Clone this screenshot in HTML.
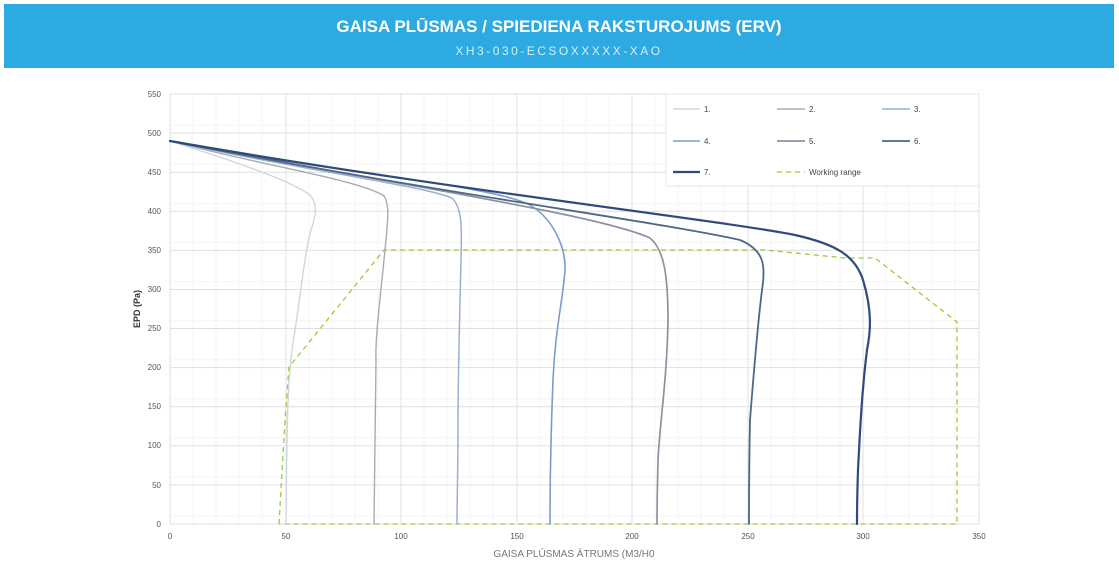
<!DOCTYPE html>
<html><head><meta charset="utf-8"><style>
body{margin:0;width:1119px;height:564px;background:#fff;font-family:"Liberation Sans",sans-serif;overflow:hidden;position:relative}
.hdr{position:absolute;left:4px;top:4px;width:1110px;height:64px;background:#2eaae3;color:#fff;text-align:center}
.t1{position:absolute;top:13px;width:100%;font-size:17px;font-weight:bold}
.t2{position:absolute;top:40px;width:100%;font-size:12px;letter-spacing:2.5px;color:#d5effa}
</style></head><body>
<div class="hdr"><div class="t1">GAISA PLŪSMAS / SPIEDIENA RAKSTUROJUMS (ERV)</div><div class="t2">XH3-030-ECSOXXXXX-XAO</div></div>
<svg width="1119" height="564" style="position:absolute;left:0;top:0" font-family="Liberation Sans, sans-serif">
<g stroke="#f5f5f5" stroke-width="1">
<path d="M193 94V524M216 94V524M239 94V524M262 94V524M309 94V524M332 94V524M355 94V524M378 94V524M424 94V524M447 94V524M470 94V524M493 94V524M540 94V524M563 94V524M586 94V524M609 94V524M655 94V524M678 94V524M701 94V524M724 94V524M771 94V524M794 94V524M817 94V524M840 94V524M886 94V524M909 94V524M932 94V524M955 94V524"/>
<path d="M170 125.3H979M170 164.4H979M170 203.5H979M170 242.5H979M170 281.6H979M170 320.7H979M170 359.8H979M170 398.9H979M170 437.9H979M170 477H979M170 516H979"/>
</g>
<g stroke="#e0e0e0" stroke-width="1">
<path d="M170 94V524M286 94V524M401 94V524M517 94V524M632 94V524M748 94V524M863 94V524M979 94V524"/>
<path d="M170 94H979M170 133.1H979M170 172.2H979M170 211.3H979M170 250.4H979M170 289.5H979M170 328.5H979M170 367.6H979M170 406.7H979M170 445.8H979M170 484.9H979M170 524H979"/>
</g>
<g font-size="8" fill="#555" text-anchor="end">
<text x="161" y="97">550</text><text x="161" y="136">500</text><text x="161" y="175">450</text><text x="161" y="214">400</text><text x="161" y="253">350</text><text x="161" y="292">300</text><text x="161" y="331">250</text><text x="161" y="370">200</text><text x="161" y="409">150</text><text x="161" y="448">100</text><text x="161" y="488">50</text><text x="161" y="527">0</text>
</g>
<g font-size="8" fill="#555" text-anchor="middle">
<text x="170" y="539">0</text><text x="286" y="539">50</text><text x="401" y="539">100</text><text x="517" y="539">150</text><text x="632" y="539">200</text><text x="748" y="539">250</text><text x="863" y="539">300</text><text x="979" y="539">350</text>
</g>
<text x="574" y="557" font-size="10" fill="#777" text-anchor="middle">GAISA PLŪSMAS ĀTRUMS (M3/H0</text>
<text x="140" y="309" font-size="9" fill="#333" font-weight="bold" text-anchor="middle" transform="rotate(-90 140 309)">EPD (Pa)</text>
<path d="M279 524L285 420L289 367L384 250L765 250L845 258L875 258L957 322L957 524L279 524" fill="none" stroke="#9acd32" stroke-width="1.3" stroke-dasharray="5,4"/>
<g fill="none" stroke-linecap="round">
<path d="M170 141C230 160 290 180 310 195C318 205 316 215 311 230C305 250 300 300 295 330C288 370 287 400 286 524" stroke="#cfd6e2" stroke-width="1.4"/>
<path d="M170 141C260 165 360 180 384 196C390 205 388 220 384 260C380 300 375 340 376 360C376 400 375 450 374 524" stroke="#a7abb3" stroke-width="1.4"/>
<path d="M170 141C300 170 420 185 452 198C462 208 462 225 461 260C460 300 458 380 458 420C458 470 457 500 457 524" stroke="#9bb0cc" stroke-width="1.5"/>
<path d="M170 141C350 175 490 185 530 205C555 220 566 250 565 270C563 300 555 330 553 380C551 430 550 480 550 524" stroke="#7b9ccb" stroke-width="1.6"/>
<path d="M170 141C400 185 600 215 650 238C665 250 668 280 668 320C667 380 660 420 658 460C657 500 657 524 657 524" stroke="#8993a2" stroke-width="1.7"/>
<path d="M170 141C420 190 660 222 740 240C764 250 766 265 762 290C757 330 754 370 750 420C749 470 749 524 749 524" stroke="#4f6688" stroke-width="1.8"/>
<path d="M170 141C450 190 720 220 795 235C835 244 855 255 863 280C872 310 871 330 867 350C862 390 860 430 858 470C857 500 857 524 857 524" stroke="#2f4a7c" stroke-width="2.2"/>
</g>
<rect x="666" y="94" width="313" height="92" fill="#fff" stroke="#e4e4e4"/>
<g font-size="8" fill="#444">
<path d="M673 109H700" stroke="#cfd6e2" stroke-width="1.4"/><text x="704" y="112">1.</text>
<path d="M777 109H805" stroke="#a7abb3" stroke-width="1.4"/><text x="809" y="112">2.</text>
<path d="M882 109H910" stroke="#9bb0cc" stroke-width="1.5"/><text x="914" y="112">3.</text>
<path d="M673 141H700" stroke="#7b9ccb" stroke-width="1.6"/><text x="704" y="144">4.</text>
<path d="M777 141H805" stroke="#8993a2" stroke-width="1.7"/><text x="809" y="144">5.</text>
<path d="M882 141H910" stroke="#4f6688" stroke-width="1.8"/><text x="914" y="144">6.</text>
<path d="M673 172H700" stroke="#2f4a7c" stroke-width="2.2"/><text x="704" y="175">7.</text>
<path d="M777 172H805" stroke="#9acd32" stroke-width="1.3" stroke-dasharray="5,4"/><text x="809" y="175">Working range</text>
</g>
</svg>
</body></html>
